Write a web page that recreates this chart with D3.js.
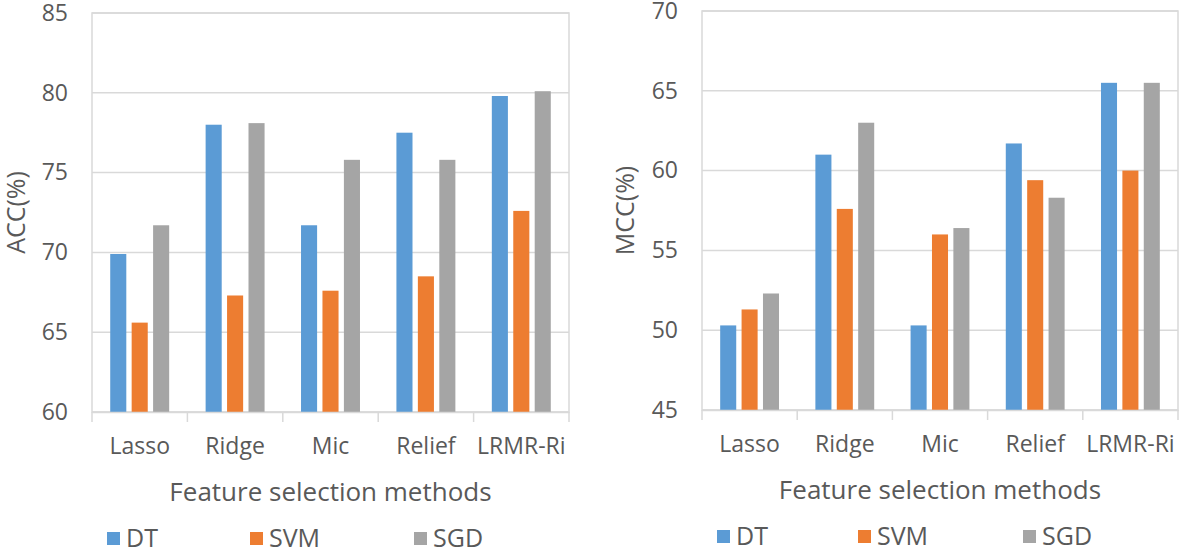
<!DOCTYPE html>
<html>
<head>
<meta charset="utf-8">
<script src="https://cdn.jsdelivr.net/npm/d3@7"></script>
<style>
  body { margin: 0; background: #fff; }
  text { font-family: "Open Sans", "Noto Sans", sans-serif; fill: #595959; }
</style>
</head>
<body>
<div id="chart"></div>
<script>
const methods = ["Lasso", "Ridge", "Mic", "Relief", "LRMR-Ri"];
const models = ["DT", "SVM", "SGD"];
const colors = ["#5B9BD5", "#ED7D31", "#A5A5A5"];

// ACC (%)
const accDT  = [69.9, 78.0, 71.7, 77.5, 79.8];
const accSVM = [65.6, 67.3, 67.6, 68.5, 72.6];
const accSGD = [71.7, 78.1, 75.8, 75.8, 80.1];
const accTicks = [60, 65, 70, 75, 80, 85];

// MCC (%)
const mccDT  = [50.3, 61.0, 50.3, 61.7, 65.5];
const mccSVM = [51.3, 57.6, 56.0, 59.4, 60.0];
const mccSGD = [52.3, 63.0, 56.4, 58.3, 65.5];
const mccTicks = [45, 50, 55, 60, 65, 70];

const svg = d3.select("#chart").append("svg")
    .attr("width", 1180)
    .attr("height", 550);

function drawChart(opt) {
    var g = svg.append("g");
    var series = [opt.dt, opt.svm, opt.sgd];

    var x = d3.scaleBand()
        .domain(methods)
        .range([opt.left, opt.right]);

    var inner = d3.scaleBand()
        .domain(models)
        .range([0, x.bandwidth()])
        .paddingInner(0.25)
        .paddingOuter(0.85);

    var y = d3.scaleLinear()
        .domain(d3.extent(opt.ticks))
        .range([opt.bottom, opt.top]);

    // gridlines
    g.selectAll(".grid")
        .data(opt.ticks)
        .enter()
        .append("line")
        .attr("x1", opt.left)
        .attr("x2", opt.right)
        .attr("y1", d => y(d))
        .attr("y2", d => y(d))
        .attr("stroke", "#D9D9D9")
        .attr("stroke-width", 1.5);

    // plot border
    g.append("rect")
        .attr("x", opt.left)
        .attr("y", opt.top)
        .attr("width", opt.right - opt.left)
        .attr("height", opt.bottom - opt.top)
        .attr("fill", "none")
        .attr("stroke", "#D9D9D9")
        .attr("stroke-width", 1.5);

    // bars
    models.forEach(function (m, i) {
        g.selectAll(".bar" + i)
            .data(series[i])
            .enter()
            .append("rect")
            .attr("x", (d, j) => x(methods[j]) + inner(m))
            .attr("y", d => y(d))
            .attr("width", inner.bandwidth())
            .attr("height", d => opt.bottom - y(d))
            .attr("fill", colors[i]);
    });

    // x axis
    var xAxis = g.append("g")
        .attr("transform", "translate(0," + opt.bottom + ")")
        .call(d3.axisBottom(x).tickSize(0).tickPadding(26));
    xAxis.select(".domain").attr("stroke", "#D9D9D9").attr("stroke-width", 1.5);
    xAxis.selectAll("text")
        .attr("fill", "#595959")
        .style("font-size", "23px")
        .style("font-family", "'Open Sans', 'Noto Sans', sans-serif");

    // category separators
    g.selectAll(".sep")
        .data(methods.concat(["end"]))
        .enter()
        .append("line")
        .attr("x1", (d, i) => opt.left + i * x.step())
        .attr("x2", (d, i) => opt.left + i * x.step())
        .attr("y1", opt.bottom)
        .attr("y2", opt.bottom + 10)
        .attr("stroke", "#D9D9D9")
        .attr("stroke-width", 1.5);

    // y axis labels
    var yAxis = g.append("g")
        .attr("transform", "translate(" + opt.left + ",0)")
        .call(d3.axisLeft(y).tickValues(opt.ticks).tickSize(0).tickPadding(24));
    yAxis.select(".domain").remove();
    yAxis.selectAll("text")
        .attr("fill", "#595959")
        .style("font-size", "23px")
        .style("font-family", "'Open Sans', 'Noto Sans', sans-serif");

    // axis titles
    g.append("text")
        .attr("transform", "translate(" + opt.yTitleX + "," + ((opt.top + opt.bottom) / 2) + ") rotate(-90)")
        .attr("text-anchor", "middle")
        .attr("dy", "0.35em")
        .style("font-size", "25px")
        .text(opt.yTitle);

    g.append("text")
        .attr("x", (opt.left + opt.right) / 2)
        .attr("y", opt.bottom + 89)
        .attr("text-anchor", "middle")
        .style("font-size", "26px")
        .text("Feature selection methods");

    // legend
    var leg = g.selectAll(".leg")
        .data(models)
        .enter()
        .append("g")
        .attr("transform", (d, i) => "translate(" + opt.legendX[i] + "," + (opt.bottom + 120) + ")");
    leg.append("rect")
        .attr("width", 13)
        .attr("height", 13)
        .attr("fill", (d, i) => colors[i]);
    leg.append("text")
        .attr("x", 19)
        .attr("y", 6)
        .attr("dy", "0.35em")
        .style("font-size", "25px")
        .text(d => d);
}

drawChart({
    dt: accDT, svm: accSVM, sgd: accSGD, ticks: accTicks,
    left: 92, right: 569, top: 13, bottom: 412,
    yTitle: "ACC(%)", yTitleX: 16,
    legendX: [107, 250, 414]
});

drawChart({
    dt: mccDT, svm: mccSVM, sgd: mccSGD, ticks: mccTicks,
    left: 702, right: 1178, top: 11, bottom: 410,
    yTitle: "MCC(%)", yTitleX: 625,
    legendX: [717, 858, 1023]
});
</script>
</body>
</html>
